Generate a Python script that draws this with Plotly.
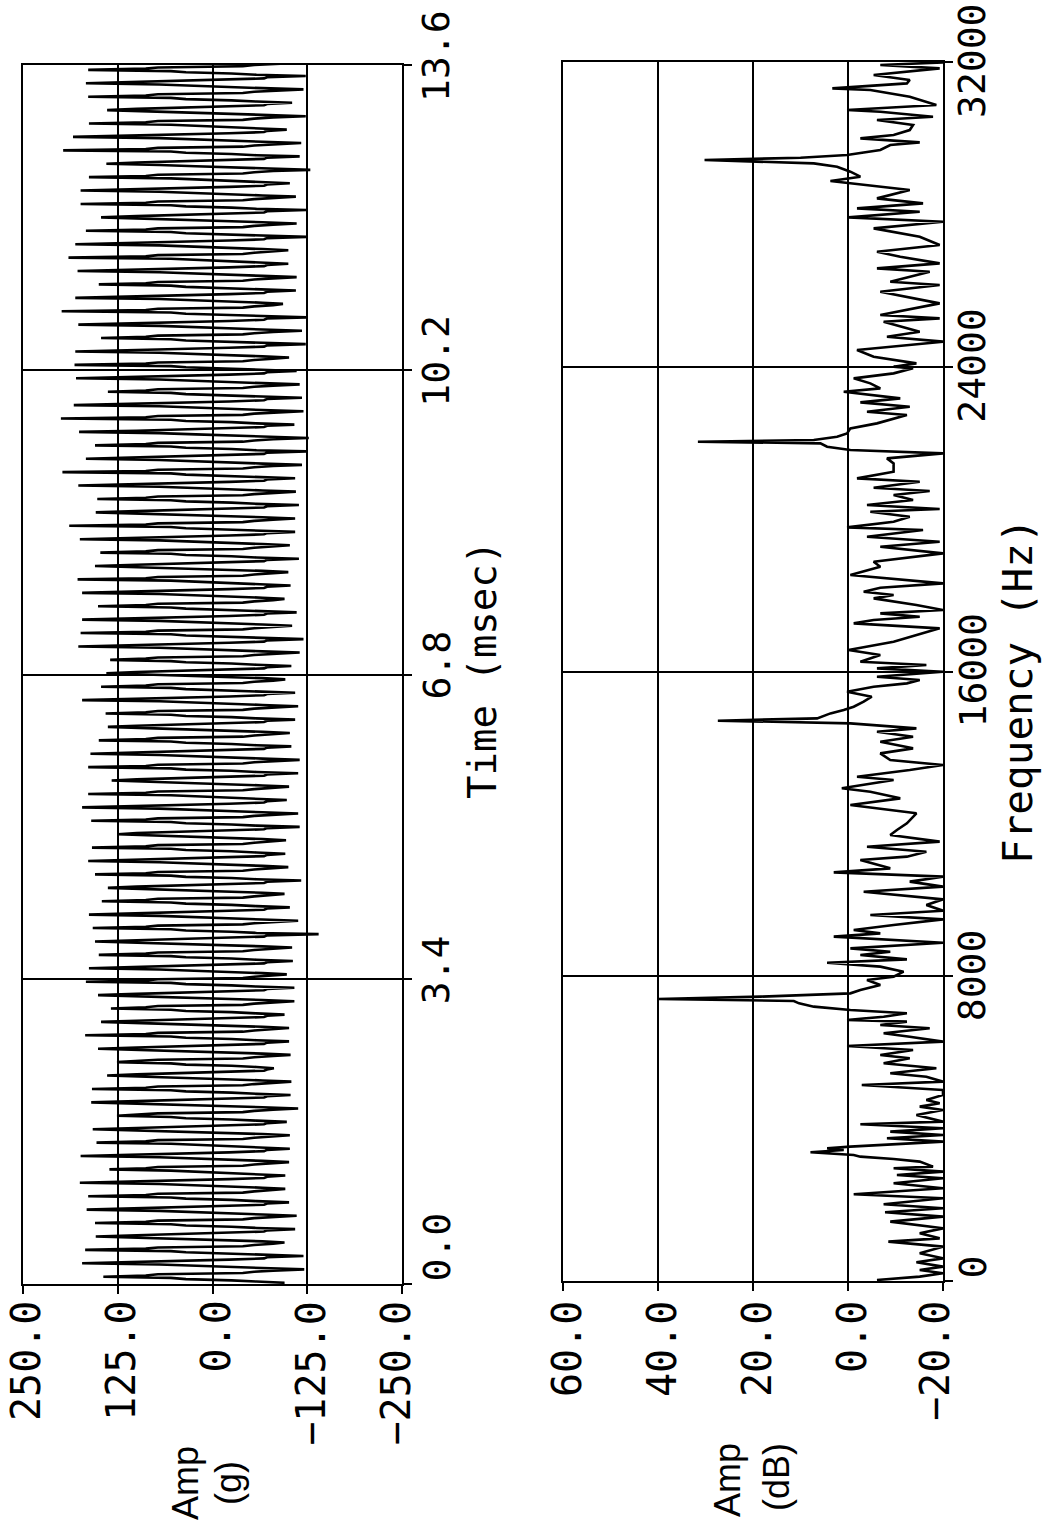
import plotly.graph_objects as go

W, H = 1049, 1525

# ---------------- time-domain record (Amp in g vs time in msec) ----------------
sample_interval_ms = 0.0136         # 10 samples per ~0.136 ms cycle
# positive peak of each cycle (time order)
pos_peaks = [144, 172, 168, 154, 155, 166, 164, 175, 136, 174,
             153, 158, 126, 160, 159, 139, 126, 151, 168, 147,
             134, 151, 167, 163, 150,
             155, 158, 163, 146, 138, 155, 164, 159, 125, 160,
             172, 164, 133, 164, 161, 150, 138, 141, 172, 147,
             140, 135, 177, 174, 172,
             151, 172, 178, 155, 148, 175, 189, 154, 152, 177,
             198, 167, 155, 176, 200, 183, 138, 180, 182, 181,
             147, 177, 199, 181, 150,
             178, 190, 181, 167, 147, 174, 174, 163, 140, 197,
             184, 163, 139, 164, 167, 164, 147, 151, 177, 186,
             176, 150, 179, 186, 172]
# negative peak of each cycle (time order)
neg_peaks = [-95, -121, -120, -95, -109, -111, -101, -96, -96, -101,
             -102, -102, -98, -113, -103, -104, -81, -103, -101, -101,
             -95, -108, -108, -98, -106,
             -105, -140, -113, -102, -95, -117, -100, -96, -97, -115,
             -113, -98, -101, -113, -115, -104, -102, -109, -113, -109,
             -96, -104, -115, -120, -105,
             -111, -95, -103, -100, -114, -102, -109, -109, -114, -110,
             -109, -118, -124, -127, -108, -120, -118, -115, -111, -101,
             -123, -118, -124, -93, -110,
             -111, -100, -100, -124, -111, -124, -110, -102, -129, -115,
             -117, -98, -123, -105, -120, -123, -120, -110, -111, -115,
             -100, -117, -117, -110, -100]
# intermediate levels inside a cycle; two shapes seen alternating in the trace
cycle_levels_a = {"before_neg": [-72], "after_neg": [-58, -25, 35, 55],
                  "after_pos": [88, 72, -40, -55]}
cycle_levels_b = {"before_neg": [-80], "after_neg": [-66, -10, 22, 70],
                  "after_pos": [100, 48, -22, -68]}

amp_g = []
for i, (n, p) in enumerate(zip(neg_peaks, pos_peaks)):
    lv = cycle_levels_a if i % 2 == 0 else cycle_levels_b
    amp_g += lv["before_neg"] + [n] + lv["after_neg"] + [p] + lv["after_pos"]
time_ms = [k * sample_interval_ms for k in range(len(amp_g))]

# ---------------- spectrum (Amp in dB vs frequency in Hz) ----------------
freq_hz = [27, 114, 202, 289, 377, 490, 595, 727, 902, 1033,
           1120, 1252, 1383, 1558, 1690, 1803, 1908, 2013, 2171, 2276,
           2433, 2564, 2696, 2783, 2871, 2958, 3002, 3133, 3203, 3264,
           3308, 3378, 3439, 3483, 3527, 3658, 3746, 3833, 3921, 4008,
           4113, 4183, 4358, 4489, 4577, 4664, 4752, 4883, 5014, 5146,
           5233, 5364, 5452, 5583, 5714, 5846, 5933, 6064, 6169, 6283,
           6414, 6502, 6633, 6720, 6808, 6852, 6939, 7027, 7114, 7202,
           7289, 7350, 7403, 7464, 7551, 7639, 7770, 7902, 7989,
           8120, 8252, 8356, 8444, 8558, 8645, 8733, 8881, 9039, 9126,
           9214, 9345, 9494, 9608, 9721, 9870, 10019, 10220, 10352, 10483,
           10614, 10728, 10833, 11051, 11139, 11270, 11401, 11533, 11708, 11839,
           12014, 12277, 12495, 12670, 12845, 12933, 13151, 13239, 13414, 13545,
           13676, 13851, 13983, 14158, 14289, 14420, 14508, 14639, 14709, 14770,
           14901, 14989, 15076, 15208, 15339, 15470, 15601, 15689, 15776, 15864,
           15934, 15995,
           16082, 16170, 16257, 16432, 16564, 16783, 17133, 17264, 17351, 17439,
           17526, 17614, 17745, 17920, 18008, 18095, 18200, 18314, 18533, 18751,
           18883, 19101, 19276, 19408, 19539, 19714, 19784, 19933, 20064, 20195,
           20265, 20370, 20501, 20633, 20738, 20825, 20983, 21070, 21245, 21464,
           21595, 21726, 21814, 21901, 21989, 22033, 22076, 22164, 22251, 22383,
           22514, 22645, 22733, 22820, 22951, 23065, 23170, 23345, 23433, 23564,
           23695, 23826, 23958,
           24002, 24089, 24264, 24439, 24658, 24789, 24921, 25183, 25270, 25358,
           25664, 25839, 25970, 26145, 26233, 26495, 26583, 26714, 26889, 27020,
           27195, 27414, 27633, 27808, 27922, 28070, 28158, 28289, 28420, 28639,
           28814, 28876, 28989, 29120, 29252, 29339, 29427, 29488, 29558, 29689,
           29820, 29891, 29995, 30083, 30214, 30345, 30477, 30564, 30695, 30739,
           30870, 31089, 31264, 31308, 31439, 31527, 31658, 31833, 31920, 31990]
amp_db = [-6.1, -15.1, -20, -15.1, -20, -14.4, -20, -15.1, -20, -8.5,
          -19.3, -15.1, -20, -8.9, -20, -7.8, -20, -7.5, -20, -1.2,
          -20, -9.6, -20, -10.3, -20, -9.6, -17.9, -15.1, -9.6, -2.6,
          -1.2, 7.9, 0.9, 4.4, -0.5, -20, -8.2, -20, -8.9, -20,
          -2.6, -20, -14.4, -20, -15.1, -19.3, -16.5, -20, -20, -2.9,
          -20, -16.5, -8.9, -18.6, -7.5, -13.0, -6.8, -13.7, 0.2, -20,
          -13.0, -7.5, -17.2, -6.8, -12.4, 0.2, -7.5, -12.4, -0.5, 7.2,
          10.3, 11.4, 40.0, 18.4, -0.5, -2.6, -6.8, -4.0, -9.6,
          -11.7, -6.8, 4.4, -12.4, -2.6, -8.9, -0.5, -20, 3.0, -6.8,
          -1.2, -9.6, -20, -4.7, -20, -16.5, -20, -3.3, -20, -13.0,
          -20, 3.0, -8.9, -2.6, -12.4, -16.5, -4.0, -19.3, -8.9, -10.3,
          -12.4, -14.4, -0.5, -11.0, -4.7, 1.3, -9.6, -1.9, -13.0, -20,
          -8.9, -6.8, -13.7, -6.8, -13.7, -6.1, -14.4, -0.5, 27.4, 6.5,
          3.7, 0.9, -1.2, -3.3, -5.0, 0.2, -5.4, -12.4, -15.1, -6.1,
          -13.7, -20,
          -6.1, -16.5, -2.6, -6.8, -0.1, -9.6, -19.3, -1.2, -5.4, -15.1,
          -6.8, -20, -14.4, -5.4, -9.6, -3.3, -6.8, -20, -0.5, -6.8,
          -5.4, -20, -6.8, -19.3, -4.0, -15.8, 0.2, -9.6, -13.0, -4.7,
          -19.3, -4.0, -13.7, -9.6, -17.2, -5.4, -15.1, -1.9, -9.6, -9.6,
          -8.2, -20, -0.5, 4.4, 5.8, 31.6, 7.2, 2.3, 0.2, -0.5,
          -6.1, -9.6, -12.4, -4.0, -13.0, -2.6, -11.0, 0.9, -6.8, -4.7,
          -1.2, -9.6, -13.7,
          -9.6, -14.4, -5.4, -1.9, -20, -8.2, -15.1, -7.5, -19.3, -6.8,
          -19.3, -12.4, -6.8, -19.3, -8.9, -17.2, -6.1, -19.3, -11.0, -6.1,
          -19.3, -15.1, -5.4, -20, -0.1, -15.1, -1.9, -15.8, -6.1, -13.0,
          -1.2, 3.7, -2.6, -0.5, 2.3, 7.2, 30.2, 10.0, 0.2, -6.8,
          -8.9, -15.1, -2.6, -9.6, -13.0, -13.7, -6.1, -17.9, -6.8, 0.2,
          -18.6, -13.0, -4.7, 3.3, -12.4, -13.0, -5.4, -19.3, -6.8, -20]

# ---------------- axis ticks ----------------
amp_g_ticks = [250, 125, 0, -125, -250]
amp_g_labels = ["250.0", "125.0", "0.0", "\u2212125.0", "\u2212250.0"]
time_ticks = [0, 3.4, 6.8, 10.2, 13.6]
time_labels = ["0.0", "3.4", "6.8", "10.2", "13.6"]
amp_db_ticks = [60, 40, 20, 0, -20]
amp_db_labels = ["60.0", "40.0", "20.0", "0.0", "\u221220.0"]
freq_ticks = [0, 8000, 16000, 24000, 32000]
freq_labels = ["0", "8000", "16000", "24000", "32000"]

MONO = "DejaVu Sans Mono"
SANS = "Liberation Sans"

fig = go.Figure()
fig.add_trace(go.Scatter(x=amp_g, y=time_ms, mode="lines",
                         line=dict(color="black", width=2.6),
                         xaxis="x", yaxis="y", showlegend=False))
fig.add_trace(go.Scatter(x=amp_db, y=freq_hz, mode="lines",
                         line=dict(color="black", width=2.6),
                         xaxis="x2", yaxis="y2", showlegend=False))

common = dict(showline=True, mirror=True, linecolor="black", linewidth=2,
              showgrid=True, gridcolor="black", gridwidth=2, zeroline=False,
              ticks="outside", ticklen=8, tickwidth=2, tickcolor="black",
              automargin=False, showticklabels=False)

fig.update_layout(
    width=W, height=H,
    margin=dict(l=0, r=0, t=0, b=0, autoexpand=False),
    paper_bgcolor="white", plot_bgcolor="white",
    xaxis=dict(domain=[23 / W, 402 / W], range=[250, -250], anchor="y",
               tickmode="array", tickvals=amp_g_ticks, **common),
    yaxis=dict(domain=[(H - 1284) / H, (H - 65) / H], range=[0, 13.6], anchor="x",
               side="right", tickmode="array", tickvals=time_ticks, **common),
    xaxis2=dict(domain=[563 / W, 943 / W], range=[60, -20], anchor="y2",
                tickmode="array", tickvals=amp_db_ticks, **common),
    yaxis2=dict(domain=[(H - 1281) / H, (H - 62) / H], range=[0, 32000], anchor="x2",
                side="right", tickmode="array", tickvals=freq_ticks, **common),
)

ann = []
# amplitude tick labels below each panel (rotated, top end near the axis)
for xr, vals, labs, shifts in [("x", amp_g_ticks, amp_g_labels, [3, 3, 3, 3, -7]),
                               ("x2", amp_db_ticks, amp_db_labels, [4, 4, 4, 4, -8])]:
    for v, t, s in zip(vals, labs, shifts):
        ann.append(dict(x=v, xref=xr, y=(H - 1299) / H, yref="paper", text=t,
                        showarrow=False, textangle=-90, xanchor="center",
                        yanchor="top", xshift=s,
                        font=dict(family=MONO, size=40, color="black")))
# time / frequency tick labels to the right of each panel
for yr, xc, vals, labs, sh in [("y", 436, time_ticks, time_labels, 9),
                               ("y2", 972, freq_ticks, freq_labels, 1)]:
    for v, t in zip(vals, labs):
        first = (v == vals[0])
        ann.append(dict(x=xc / W, xref="paper", y=v, yref=yr, text=t, showarrow=False,
                        textangle=-90, xanchor="center",
                        yanchor="bottom" if first else "middle",
                        yshift=0 if first else sh,
                        font=dict(family=MONO, size=38, color="black")))

ann.append(dict(x=482 / W, xref="paper", y=(H - 670) / H, yref="paper",
                text="Time (msec)", showarrow=False, textangle=-90,
                xanchor="center", yanchor="middle",
                font=dict(family=MONO, size=39, color="black")))
ann.append(dict(x=1018 / W, xref="paper", y=(H - 691) / H, yref="paper",
                text="Frequency (Hz)", showarrow=False, textangle=-90,
                xanchor="center", yanchor="middle",
                font=dict(family=MONO, size=41, color="black")))
for txt, xc, yc in [("Amp", 185, 1483), ("(g)", 228, 1483),
                    ("Amp", 727, 1480), ("(dB)", 776, 1477)]:
    ann.append(dict(x=xc / W, xref="paper", y=(H - yc) / H, yref="paper",
                    text=txt, showarrow=False, textangle=-90,
                    xanchor="center", yanchor="middle",
                    font=dict(family=SANS, size=36, color="black")))

fig.update_layout(annotations=ann)
fig.write_html("out.html",
               config={"displayModeBar": False, "staticPlot": True},
               post_script="document.body.style.margin='0px';"
                           "document.body.style.overflow='hidden';")
